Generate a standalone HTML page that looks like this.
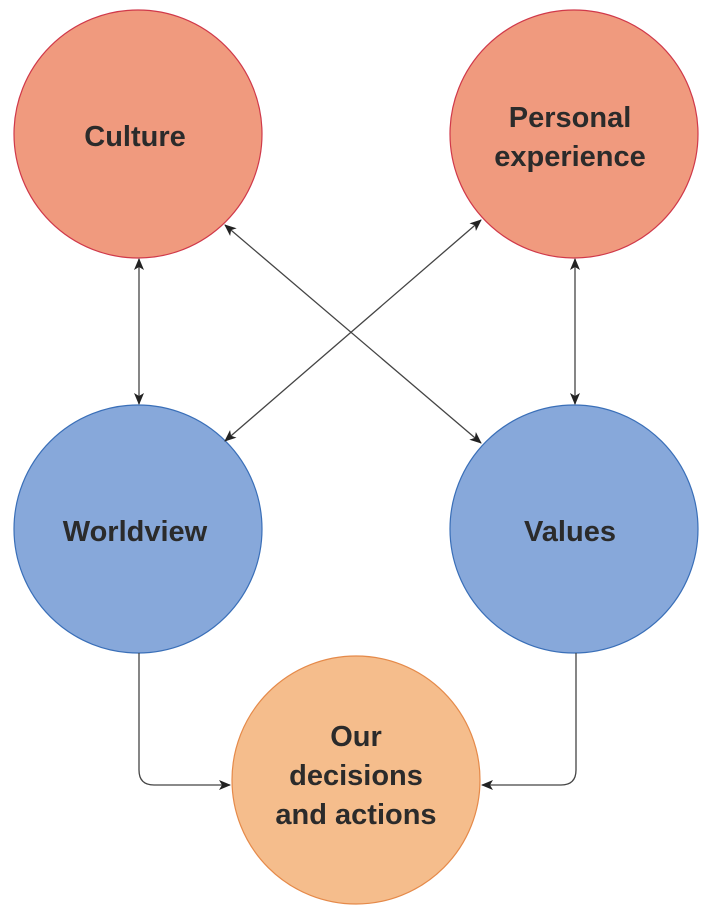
<!DOCTYPE html>
<html><head><style>
html,body{margin:0;padding:0;background:#fff;}
svg text{font-family:"Liberation Sans",sans-serif;font-weight:bold;font-size:29px;fill:#2b2b2b;text-anchor:middle;}
</style></head><body>
<svg width="712" height="912" viewBox="0 0 712 912" xmlns="http://www.w3.org/2000/svg">
<defs>
<marker id="a" viewBox="0 0 12 10" refX="11" refY="5" markerWidth="12" markerHeight="10" markerUnits="userSpaceOnUse" orient="auto-start-reverse">
<path d="M0,0 L12,5 L0,10 L3,5 Z" fill="#222"/>
</marker>
</defs>
<circle cx="138" cy="134" r="124" fill="#f09a7e" stroke="#d0394a" stroke-width="1.2"/>
<circle cx="574" cy="134" r="124" fill="#f09a7e" stroke="#d0394a" stroke-width="1.2"/>
<circle cx="138" cy="529" r="124" fill="#87a8da" stroke="#3a6fb8" stroke-width="1.2"/>
<circle cx="574" cy="529" r="124" fill="#87a8da" stroke="#3a6fb8" stroke-width="1.2"/>
<circle cx="356" cy="780" r="124" fill="#f5bd8c" stroke="#e58a4a" stroke-width="1.2"/>
<g stroke="#444" stroke-width="1.3" fill="none">
<line x1="139" y1="259" x2="139" y2="404" marker-start="url(#a)" marker-end="url(#a)"/>
<line x1="575" y1="259" x2="575" y2="404" marker-start="url(#a)" marker-end="url(#a)"/>
<line x1="225" y1="225" x2="481" y2="443" marker-start="url(#a)" marker-end="url(#a)"/>
<line x1="481" y1="220" x2="225" y2="441" marker-start="url(#a)" marker-end="url(#a)"/>
<path d="M139,653 L139,770 Q139,785 154,785 L230,785" marker-end="url(#a)"/>
<path d="M576,653 L576,770 Q576,785 561,785 L482,785" marker-end="url(#a)"/>
</g>
<text x="135" y="146">Culture</text>
<text x="570" y="127">Personal</text>
<text x="570" y="166">experience</text>
<text x="135" y="541">Worldview</text>
<text x="570" y="541">Values</text>
<text x="356" y="746">Our</text>
<text x="356" y="785">decisions</text>
<text x="356" y="824">and actions</text>
</svg>
</body></html>
